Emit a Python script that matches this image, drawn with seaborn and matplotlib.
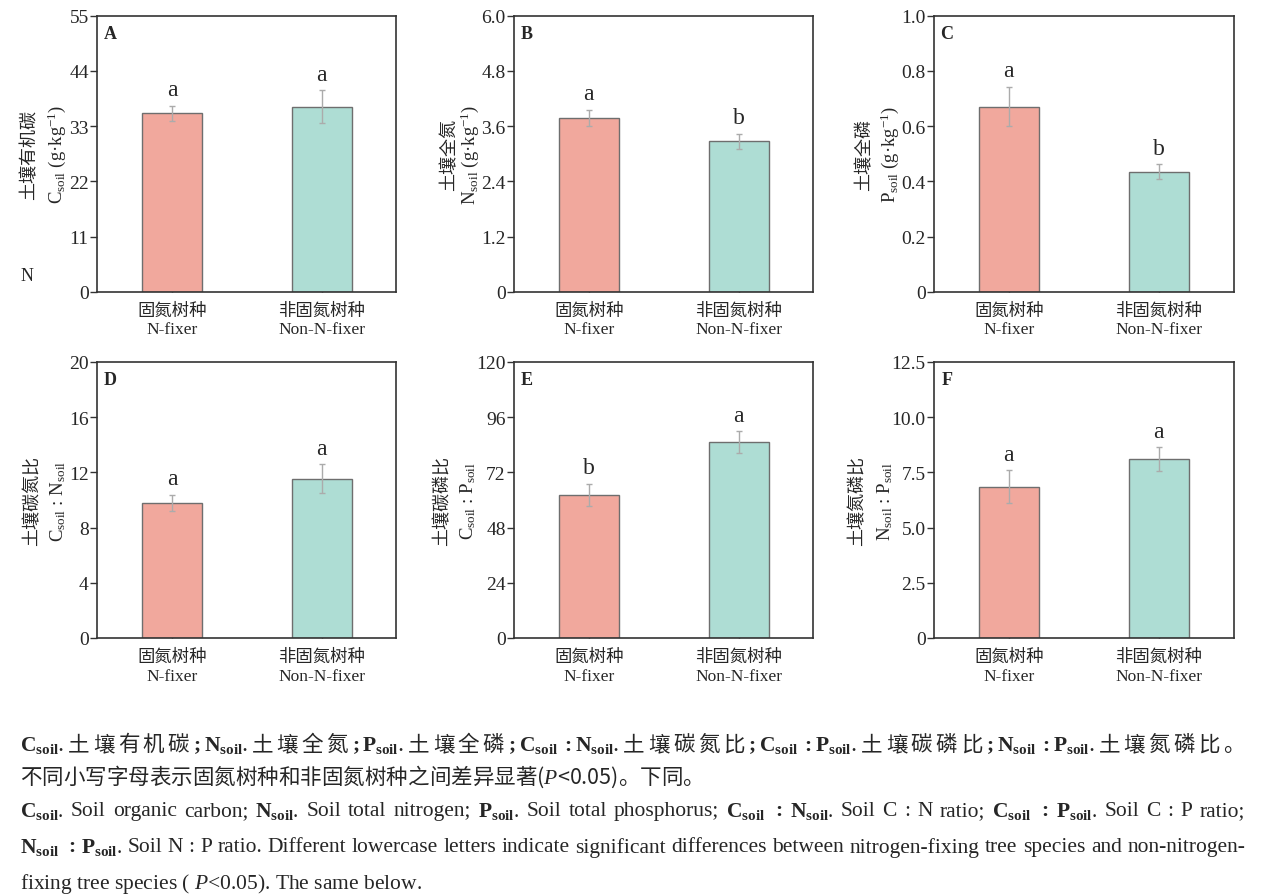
import re
import numpy as np
import pandas as pd
import matplotlib
matplotlib.use("Agg")
import matplotlib.pyplot as plt
import seaborn as sns

# groups and colours
groups = ["固氮树种\nN-fixer", "非固氮树种\nNon-N-fixer"]
bar_colors = ["#F1A89D", "#AEDDD4"]

panel_tags = ["A", "B", "C", "D", "E", "F"]
cn_labels = ["土壤有机碳", "土壤全氮", "土壤全磷", "土壤碳氮比", "土壤碳磷比", "土壤氮磷比"]
en_labels = [r"$\mathrm{C_{soil}}$ (g·kg$^{-1}$)",
             r"$\mathrm{N_{soil}}$ (g·kg$^{-1}$)",
             r"$\mathrm{P_{soil}}$ (g·kg$^{-1}$)",
             r"$\mathrm{C_{soil}}$ : $\mathrm{N_{soil}}$",
             r"$\mathrm{C_{soil}}$ : $\mathrm{P_{soil}}$",
             r"$\mathrm{N_{soil}}$ : $\mathrm{P_{soil}}$"]

# means, standard errors and significance letters
c_mean = [35.6, 36.9]
c_se = [1.5, 3.2]
c_sig = ["a", "a"]
n_mean = [3.78, 3.27]
n_se = [0.17, 0.16]
n_sig = ["a", "b"]
p_mean = [0.671, 0.435]
p_se = [0.072, 0.027]
p_sig = ["a", "b"]
cn_mean = [9.77, 11.54]
cn_se = [0.59, 1.04]
cn_sig = ["a", "a"]
cp_mean = [62.1, 85.1]
cp_se = [4.9, 4.7]
cp_sig = ["b", "a"]
np_mean = [6.86, 8.10]
np_se = [0.73, 0.54]
np_sig = ["a", "a"]

# y ticks and their labels
c_ticks = [0, 11, 22, 33, 44, 55]
c_ticklabels = ["0", "11", "22", "33", "44", "55"]
n_ticks = [0, 1.2, 2.4, 3.6, 4.8, 6.0]
n_ticklabels = ["0", "1.2", "2.4", "3.6", "4.8", "6.0"]
p_ticks = [0, 0.2, 0.4, 0.6, 0.8, 1.0]
p_ticklabels = ["0", "0.2", "0.4", "0.6", "0.8", "1.0"]
cn_ticks = [0, 4, 8, 12, 16, 20]
cn_ticklabels = ["0", "4", "8", "12", "16", "20"]
cp_ticks = [0, 24, 48, 72, 96, 120]
cp_ticklabels = ["0", "24", "48", "72", "96", "120"]
np_ticks = [0, 2.5, 5.0, 7.5, 10.0, 12.5]
np_ticklabels = ["0", "2.5", "5.0", "7.5", "10.0", "12.5"]

# caption; "|" marks where the justified English lines may stretch
caption_cn1 = (r"$\mathbf{C_{soil}}$. 土壤有机碳$\mathbf{;}$ $\mathbf{N_{soil}}$. 土壤全氮$\mathbf{;}$ "
               r"$\mathbf{P_{soil}}$. 土壤全磷$\mathbf{;}$ $\mathbf{C_{soil}}$ $\mathbf{:}$ $\mathbf{N_{soil}}$. 土壤碳氮比$\mathbf{;}$ "
               r"$\mathbf{C_{soil}}$ $\mathbf{:}$ $\mathbf{P_{soil}}$. 土壤碳磷比$\mathbf{;}$ "
               r"$\mathbf{N_{soil}}$ $\mathbf{:}$ $\mathbf{P_{soil}}$. 土壤氮磷比。")
caption_cn2 = r"不同小写字母表示固氮树种和非固氮树种之间差异显著($\mathit{P}$<0.05)。下同。"
caption_en1 = (r"$\mathbf{C_{soil}}$.|Soil|organic|carbon;|$\mathbf{N_{soil}}$.|Soil|total|nitrogen;|"
               r"$\mathbf{P_{soil}}$.|Soil|total|phosphorus;|$\mathbf{C_{soil}}$|$\mathbf{:}$|$\mathbf{N_{soil}}$.|Soil|C|:|N|ratio;|"
               r"$\mathbf{C_{soil}}$|$\mathbf{:}$|$\mathbf{P_{soil}}$.|Soil|C|:|P|ratio;")
caption_en2 = (r"$\mathbf{N_{soil}}$|$\mathbf{:}$|$\mathbf{P_{soil}}$.|Soil|N|:|P|ratio.|Different|lowercase|letters|indicate|"
               r"significant|differences|between|nitrogen-fixing|tree|species|and|non-nitrogen-")
caption_en3 = r"fixing tree species ( $\mathit{P}$<0.05). The same below."

panels = [
    (c_mean, c_se, c_sig, c_ticks, c_ticklabels),
    (n_mean, n_se, n_sig, n_ticks, n_ticklabels),
    (p_mean, p_se, p_sig, p_ticks, p_ticklabels),
    (cn_mean, cn_se, cn_sig, cn_ticks, cn_ticklabels),
    (cp_mean, cp_se, cp_sig, cp_ticks, cp_ticklabels),
    (np_mean, np_se, np_sig, np_ticks, np_ticklabels),
]

sns.set_style("ticks")
plt.rcParams["font.family"] = ["Liberation Serif", "Noto Sans CJK SC"]
plt.rcParams["mathtext.fontset"] = "custom"
plt.rcParams["mathtext.rm"] = "Liberation Serif"
plt.rcParams["mathtext.it"] = "Liberation Serif:italic"
plt.rcParams["mathtext.bf"] = "Liberation Serif:bold"

W, H = 1265, 895
fig = plt.figure(figsize=(W / 100, H / 100), dpi=100)

lefts = [97, 514, 934]
tops = [16.7, 363]
aw, ah = 299.5, 276
cn_x = [-67, -64, -69, -64, -71, -76]
en_x = [-40, -44, -44, -39, -46, -49]
palette = dict(zip(groups, bar_colors))

for i, (mean, se, sig, ticks, ticklabels) in enumerate(panels):
    left = lefts[i % 3]
    top = tops[i // 3]
    ax = fig.add_axes([left / W, 1 - (top + ah) / H, aw / W, ah / H])
    df = pd.DataFrame({"group": groups, "value": mean})
    sns.barplot(data=df, x="group", y="value", hue="group", palette=palette,
                saturation=1, width=0.4, edgecolor="#6e6e6e", linewidth=1,
                errorbar=None, legend=False, ax=ax)
    ax.errorbar([0, 1], mean, yerr=se, fmt="none", ecolor="#ababab",
                elinewidth=1, capsize=2.5, capthick=1)
    for j in range(2):
        ax.annotate(sig[j], (j, mean[j] + se[j]), xytext=(0, 4),
                    textcoords="offset points", ha="center", va="bottom",
                    fontsize=17)
    ax.set_xlim(-0.5, 1.5)
    ax.set_ylim(0, ticks[-1])
    ax.set_yticks(ticks)
    ax.set_yticklabels(ticklabels)
    ax.set_xlabel("")
    ax.set_ylabel("")
    ax.tick_params(axis="x", direction="in", length=4, width=1, pad=8,
                   labelsize=12.5, color="#333333")
    ax.tick_params(axis="y", direction="out", length=5, width=1, pad=1,
                   labelsize=14, color="#333333")
    for s in ax.spines.values():
        s.set_visible(True)
        s.set_linewidth(1.2)
        s.set_color("#333333")
    ax.text(13 / aw, 1 - 18 / ah, panel_tags[i], transform=ax.transAxes,
            ha="center", va="center", fontsize=13, fontweight="bold")
    ax.text(cn_x[i] / aw, 0.5, cn_labels[i], transform=ax.transAxes,
            rotation=90, ha="center", va="center", fontsize=13)
    ax.text(en_x[i] / aw, 0.5, en_labels[i], transform=ax.transAxes,
            rotation=90, ha="center", va="center", fontsize=13.5)

fig.text(27 / W, 1 - 277 / H, "N", ha="center", va="center", fontsize=13)

# caption, justified where the original is
renderer = fig.canvas.get_renderer()


def put_line(words, y, justify, **kw):
    x0, x1 = 20, 1245
    if not justify:
        fig.text(x0 / W, 1 - y / H, "".join(words), ha="left", va="center", **kw)
        return
    items = [fig.text(0, 1 - y / H, w, ha="left", va="center", **kw) for w in words]
    widths = [t.get_window_extent(renderer).width for t in items]
    gap = (x1 - x0 - sum(widths)) / (len(items) - 1)
    x = x0
    for t, wdt in zip(items, widths):
        t.set_x(x / W)
        x += wdt + gap


cn_kw = dict(fontsize=15.5, family=["Noto Sans CJK SC"])
en_kw = dict(fontsize=15.5)
# Chinese line is justified character by character
cn1_tokens = re.findall(r"\$[^$]+\$\.?|\S", caption_cn1)
put_line(cn1_tokens, 745, True, **cn_kw)
put_line([caption_cn2], 777, False, **cn_kw)
put_line(caption_en1.split("|"), 812, True, **en_kw)
put_line(caption_en2.split("|"), 848, True, **en_kw)
put_line([caption_en3], 884, False, **en_kw)

fig.savefig("out.png", dpi=100)
